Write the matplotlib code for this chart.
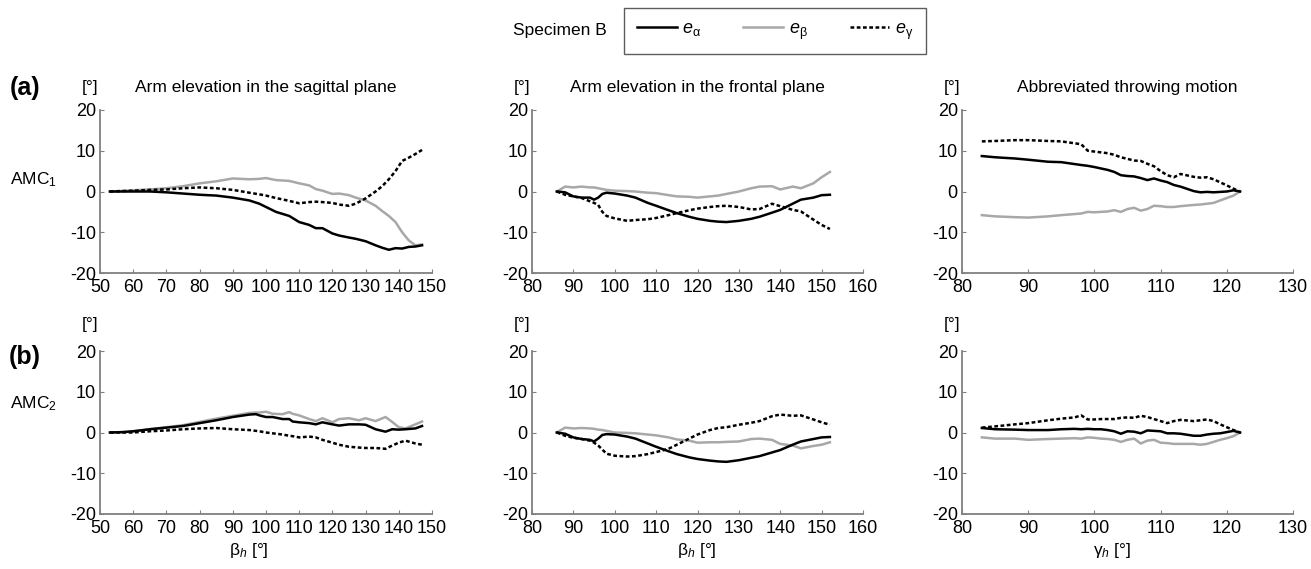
import numpy as np
import matplotlib
matplotlib.use("Agg")
import matplotlib.pyplot as plt

plt.rcParams['font.family'] = ['Liberation Sans', 'DejaVu Sans']
plt.rcParams['mathtext.fontset'] = 'custom'
plt.rcParams['mathtext.rm'] = 'Liberation Sans'
plt.rcParams['mathtext.it'] = 'Liberation Sans:italic'
plt.rcParams['mathtext.bf'] = 'Liberation Sans:bold'
plt.rcParams['axes.unicode_minus'] = False

# Specimen B, AMC1, sagittal plane
sag1_x = [53, 56, 60, 65, 70, 75, 80, 85, 90, 95, 98, 100, 103, 107, 110, 113, 115, 117, 120, 122,
          125, 127, 130, 133, 135, 137, 139, 141, 143, 145, 147]
sag1_ea = [0, 0, 0, 0, -0.2, -0.5, -0.8, -1.0, -1.5, -2.2, -3, -3.8, -5, -6, -7.5, -8.2, -9, -9, -10.3, -10.8,
           -11.3, -11.6, -12.2, -13.2, -13.8, -14.3, -13.9, -14.0, -13.6, -13.5, -13.2]
sag1_eb = [0, 0.1, 0.3, 0.5, 0.8, 1.3, 2.0, 2.5, 3.2, 3.0, 3.1, 3.3, 2.8, 2.6, 2.0, 1.5, 0.6, 0.2, -0.6, -0.5,
           -0.9, -1.5, -2.2, -3.5, -4.8, -6, -7.5, -10, -12, -13.2, -13]
sag1_eg = [0, 0.1, 0.2, 0.4, 0.5, 0.8, 1.0, 0.8, 0.4, -0.3, -0.7, -1, -1.6, -2.3, -2.9, -2.6, -2.5, -2.6, -2.8, -3.2,
           -3.5, -3.0, -1.7, 0, 1.3, 3, 5, 7.5, 8.3, 9.2, 10.2]

# AMC1, frontal plane
fro_x = [86, 88, 90, 92, 94, 95, 96, 97, 98, 100, 103, 105, 108, 110, 113, 115, 118, 120, 123, 125,
         127, 130, 133, 135, 138, 140, 143, 145, 148, 150, 152]
fro1_ea = [0, -0.2, -1.2, -1.5, -1.5, -2, -1.5, -0.6, -0.3, -0.5, -1, -1.5, -2.8, -3.5, -4.6, -5.3, -6.2, -6.7, -7.2, -7.4,
           -7.5, -7.2, -6.7, -6.2, -5.2, -4.5, -3, -2, -1.5, -0.9, -0.8]
fro1_eb = [0, 1.2, 1.0, 1.2, 1.0, 1.0, 0.8, 0.6, 0.4, 0.2, 0.1, 0, -0.3, -0.4, -0.9, -1.2, -1.3, -1.5, -1.2, -1.0,
           -0.6, 0, 0.8, 1.2, 1.3, 0.5, 1.2, 0.8, 2, 3.5, 4.8]
fro1_eg = [0, -0.8, -1.2, -1.6, -2.4, -2.8, -3.3, -5, -6.0, -6.6, -7.2, -7.0, -6.8, -6.5, -5.8, -5.3, -4.6, -4.2, -3.8, -3.6,
           -3.5, -3.8, -4.4, -4.3, -3.0, -3.6, -4.5, -4.9, -6.9, -8.2, -9.2]

# AMC1, throwing motion
thr1_x = [83, 85, 88, 90, 93, 95, 98, 99, 100, 102, 103, 104, 105, 106, 107, 108, 109, 110, 111, 112,
          113, 115, 116, 117, 118, 120, 121, 122]
thr1_ea = [8.7, 8.4, 8.1, 7.8, 7.3, 7.2, 6.5, 6.3, 6.0, 5.3, 4.8, 4.0, 3.8, 3.7, 3.3, 2.8, 3.2, 2.7, 2.3, 1.6,
           1.2, 0.1, -0.2, -0.1, -0.2, 0, 0.3, 0]
thr1_eb = [-5.8, -6.1, -6.3, -6.4, -6.1, -5.8, -5.4, -5.0, -5.1, -4.9, -4.6, -5.0, -4.3, -4.0, -4.7, -4.3, -3.5, -3.6, -3.8, -3.8,
           -3.6, -3.3, -3.2, -3.0, -2.8, -1.6, -1.0, 0]
thr1_eg = [12.3, 12.4, 12.6, 12.6, 12.4, 12.3, 11.6, 10.0, 9.8, 9.4, 9.0, 8.4, 8.0, 7.6, 7.5, 6.8, 6.2, 5.0, 4.0, 3.5,
           4.3, 3.6, 3.4, 3.5, 3.0, 1.5, 0.7, 0]

# AMC2, sagittal plane
sag2_x = [53, 57, 60, 65, 70, 75, 80, 85, 90, 95, 97, 98, 100, 102, 105, 107, 108, 110, 113, 115,
          117, 120, 122, 125, 128, 130, 133, 136, 138, 140, 142, 145, 147]
sag2_ea = [0, 0.1, 0.3, 0.8, 1.2, 1.6, 2.3, 3.0, 3.8, 4.4, 4.5, 4.2, 3.8, 3.8, 3.3, 3.3, 2.7, 2.5, 2.3, 2.0,
           2.5, 2.0, 1.7, 2.0, 2.0, 1.9, 0.8, 0.2, 0.8, 0.7, 0.8, 1.0, 1.6]
sag2_eb = [0, 0.1, 0.3, 0.8, 1.3, 1.8, 2.6, 3.4, 4.1, 4.8, 4.9, 4.9, 5.1, 4.6, 4.5, 5.0, 4.6, 4.2, 3.3, 2.8,
           3.5, 2.5, 3.3, 3.5, 3.0, 3.5, 2.8, 3.8, 2.6, 1.3, 1.0, 2.0, 2.7]
sag2_eg = [0, 0, 0, 0.3, 0.5, 0.8, 1.0, 1.1, 0.8, 0.6, 0.4, 0.3, 0, -0.2, -0.5, -0.8, -0.9, -1.2, -1.0, -1.2,
           -1.8, -2.5, -3, -3.5, -3.7, -3.8, -3.8, -4.0, -3.2, -2.5, -2, -2.7, -3.0]

# AMC2, frontal plane
fro2_ea = [0, -0.3, -1.2, -1.6, -1.8, -2.2, -1.5, -0.6, -0.4, -0.5, -1.0, -1.5, -2.7, -3.5, -4.6, -5.3, -6.1, -6.5, -6.9, -7.1,
           -7.2, -6.8, -6.2, -5.8, -4.9, -4.3, -3.0, -2.2, -1.6, -1.2, -1.1]
fro2_eb = [0, 1.2, 1.0, 1.1, 1.0, 0.9, 0.7, 0.6, 0.4, 0, -0.1, -0.2, -0.5, -0.7, -1.2, -1.7, -2.0, -2.5, -2.4, -2.4,
           -2.3, -2.2, -1.6, -1.5, -1.8, -2.8, -3.2, -3.9, -3.3, -3.0, -2.4]
fro2_eg = [0, -0.8, -1.3, -1.6, -2.0, -2.5, -3.2, -4.2, -5.2, -5.7, -5.9, -5.8, -5.3, -4.8, -4.0, -3.0, -1.5, -0.5, 0.6, 1.1,
           1.3, 1.9, 2.4, 2.8, 4.0, 4.4, 4.1, 4.2, 3.2, 2.5, 1.9]

# AMC2, throwing motion
thr2_x = [83, 85, 88, 90, 93, 95, 97, 98, 99, 100, 101, 102, 103, 104, 105, 106, 107, 108, 109, 110,
          111, 112, 113, 115, 116, 117, 118, 119, 120, 121, 122]
thr2_ea = [1.1, 0.8, 0.7, 0.6, 0.6, 0.8, 0.9, 0.8, 0.9, 0.8, 0.8, 0.6, 0.3, -0.3, 0.3, 0.2, -0.2, 0.5, 0.4, 0.3,
           -0.2, -0.2, -0.3, -0.8, -0.8, -0.5, -0.3, -0.2, 0.1, 0.4, 0]
thr2_eb = [-1.2, -1.5, -1.5, -1.8, -1.6, -1.5, -1.4, -1.5, -1.2, -1.3, -1.5, -1.6, -1.8, -2.3, -1.8, -1.5, -2.7, -2.0, -1.8, -2.5,
           -2.6, -2.8, -2.8, -2.8, -3.0, -2.8, -2.3, -1.8, -1.4, -0.9, 0]
thr2_eg = [1.2, 1.5, 2.0, 2.3, 3.0, 3.4, 3.7, 4.2, 3.2, 3.2, 3.3, 3.3, 3.3, 3.6, 3.7, 3.6, 4.1, 3.8, 3.3, 2.8,
           2.3, 2.8, 3.1, 2.8, 3.0, 3.2, 2.8, 2.0, 1.3, 0.6, 0]

titles = ["Arm elevation in the sagittal plane", "Arm elevation in the frontal plane",
          "Abbreviated throwing motion"]
xlims = [(50, 150), (80, 160), (80, 130)]
xticks = [np.arange(50, 151, 10), np.arange(80, 161, 10), np.arange(80, 131, 10)]
yticks = [-20, -10, 0, 10, 20]

panels = [
    [(sag1_x, sag1_ea, sag1_eb, sag1_eg), (fro_x, fro1_ea, fro1_eb, fro1_eg), (thr1_x, thr1_ea, thr1_eb, thr1_eg)],
    [(sag2_x, sag2_ea, sag2_eb, sag2_eg), (fro_x, fro2_ea, fro2_eb, fro2_eg), (thr2_x, thr2_ea, thr2_eb, thr2_eg)],
]

W, H = 1311, 569
fig = plt.figure(figsize=(W / 100, H / 100), dpi=100)

lefts = [100, 532, 962]
widths = [332, 331, 331]
tops = [110, 351]
hgt = 163
gray = "#808080"
lw = 1.8

handles = None
for r in range(2):
    for c in range(3):
        ax = fig.add_axes([lefts[c] / W, 1 - (tops[r] + hgt) / H, widths[c] / W, hgt / H])
        x, ea, eb, eg = panels[r][c]
        l1, = ax.plot(x, ea, color="black", lw=lw, label=r"$e_{\mathrm{α}}$", zorder=3)
        l2, = ax.plot(x, eb, color="#a8a8a8", lw=lw, label=r"$e_{\mathrm{β}}$", zorder=2)
        l3, = ax.plot(x, eg, color="black", lw=lw, ls=(0, (1.5, 1.0)), label=r"$e_{\mathrm{γ}}$", zorder=4)
        if handles is None:
            handles = [l1, l2, l3]
        ax.set_xlim(*xlims[c])
        ax.set_ylim(-20, 20)
        ax.set_xticks(xticks[c])
        ax.set_yticks(yticks)
        for s in ["top", "right"]:
            ax.spines[s].set_visible(False)
        for s in ["left", "bottom"]:
            ax.spines[s].set_color(gray)
            ax.spines[s].set_linewidth(1.3)
        ax.tick_params(direction="in", length=3, color=gray, labelsize=13, pad=4)
        ax.tick_params(axis="y", pad=3)
        ax.annotate("[°]", xy=(0, 1), xycoords="axes fraction",
                    xytext=(-10, 22 if r == 0 else 26), textcoords="offset pixels",
                    ha="center", va="center", fontsize=12.5)
        if r == 0:
            ax.annotate(titles[c], xy=(0.5, 1), xycoords="axes fraction",
                        xytext=(0, 22), textcoords="offset pixels",
                        ha="center", va="center", fontsize=12.5)

# panel letters and row labels
fig.text(25 / W, 1 - 88 / H, "(a)", fontsize=18, fontweight="bold", ha="center", va="center")
fig.text(25 / W, 1 - 357 / H, "(b)", fontsize=18, fontweight="bold", ha="center", va="center")
fig.text(10 / W, 1 - 180 / H, "AMC$_{1}$", fontsize=12.5, ha="left", va="center")
fig.text(10 / W, 1 - 404 / H, "AMC$_{2}$", fontsize=12.5, ha="left", va="center")

# x labels
fig.text(249 / W, 1 - 550 / H, r"$\mathrm{β}_{h}$ [°]", fontsize=12.5, ha="center", va="center")
fig.text(697 / W, 1 - 550 / H, r"$\mathrm{β}_{h}$ [°]", fontsize=12.5, ha="center", va="center")
fig.text(1112 / W, 1 - 550 / H, r"$\mathrm{γ}_{h}$ [°]", fontsize=12.5, ha="center", va="center")

# legend
fig.text(560 / W, 1 - 31 / H, "Specimen B", fontsize=12.5, ha="center", va="center")
leg = fig.legend(handles=handles, loc="center", bbox_to_anchor=(775 / W, 1 - 31 / H), ncol=3,
                 fontsize=13, frameon=True, fancybox=False, handlelength=2.2, handletextpad=0.3,
                 columnspacing=2.35, borderpad=0.7, borderaxespad=0)
leg.get_frame().set_edgecolor("#333333")
leg.get_frame().set_linewidth(1.0)

fig.savefig("out.png", dpi=100)
